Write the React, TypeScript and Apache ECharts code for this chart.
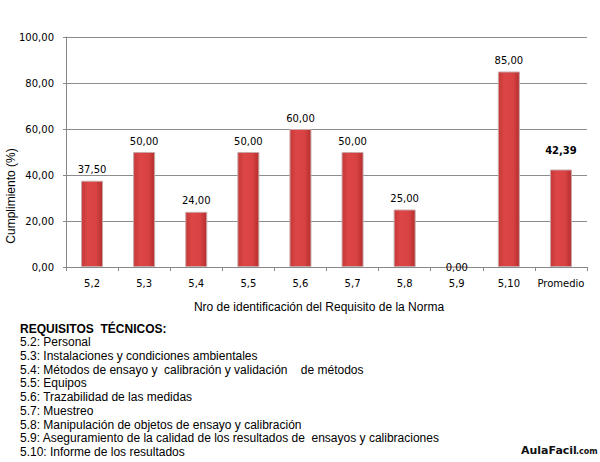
import React, { useEffect, useRef } from "react";
import * as echarts from "echarts";

const categories = ["5,2", "5,3", "5,4", "5,5", "5,6", "5,7", "5,8", "5,9", "5,10", "Promedio"];
const values = [37.5, 50, 24, 50, 60, 50, 25, 0, 85, 42.39];
const yTicks = { min: 0, max: 100, interval: 20 };
const yAxisName = "Cumplimiento (%)";
const xAxisName = "Nro de identificación del Requisito de la Norma";
const notesTitle = "REQUISITOS  TÉCNICOS:";
const notes = [
  "5.2: Personal",
  "5.3: Instalaciones y condiciones ambientales",
  "5.4: Métodos de ensayo y  calibración y validación    de métodos",
  "5.5: Equipos",
  "5.6: Trazabilidad de las medidas",
  "5.7: Muestreo",
  "5.8: Manipulación de objetos de ensayo y calibración",
  "5.9: Aseguramiento de la calidad de los resultados de  ensayos y calibraciones",
  "5.10: Informe de los resultados",
];
const brand = "AulaFacil";
const brandSuffix = ".com";

const fmt = (v: number) => v.toFixed(2).replace(".", ",");

export default function App() {
  const ref = useRef<HTMLDivElement>(null);
  useEffect(() => {
    document.body.style.margin = "0";
    const chart = echarts.init(ref.current!, null, { renderer: "svg" });
    const barColor = new echarts.graphic.LinearGradient(0, 0, 1, 0, [
      { offset: 0, color: "#c63838" },
      { offset: 0.3, color: "#dc4646" },
      { offset: 0.7, color: "#d84242" },
      { offset: 1, color: "#b42e2e" },
    ]);
    const labelFont = { fontFamily: "DejaVu Sans", fontSize: 10, color: "#000" };
    const data = values.map((v, i) => {
      const isAvg = i === values.length - 1;
      const item: any = { value: v };
      if (v === 0) item.label = { position: "inside", offset: [0, 0] };
      if (isAvg) item.label = { fontWeight: "bold", distance: 14 };
      return item;
    });
    chart.setOption({
      animation: false,
      backgroundColor: "#fff",
      grid: { left: 66, right: 13, top: 37, bottom: 195 },
      xAxis: {
        type: "category",
        data: categories,
        axisLine: { lineStyle: { color: "#888", width: 1 } },
        axisTick: { show: true, length: 4, interval: 0, alignWithLabel: false, lineStyle: { color: "#888" } },
        axisLabel: { ...labelFont, margin: 11, interval: 0 },
      },
      yAxis: {
        type: "value",
        min: yTicks.min,
        max: yTicks.max,
        interval: yTicks.interval,
        axisLine: { show: true, lineStyle: { color: "#888" } },
        axisTick: { show: true, length: 3, lineStyle: { color: "#888" } },
        axisLabel: { ...labelFont, margin: 12, formatter: (v: number) => fmt(v) },
        splitLine: { lineStyle: { color: "#8c8c8c", width: 1 } },
      },
      series: [
        {
          type: "bar",
          data,
          barWidth: 22,
          itemStyle: {
            color: barColor,
            borderColor: "#c8a8a8",
            borderWidth: 1,
          },
          label: {
            show: true,
            position: "top",
            distance: 6,
            ...labelFont,
            formatter: (p: any) => fmt(p.value),
          },
        },
      ],
      graphic: [
        {
          type: "text",
          x: 11,
          y: 196,
          rotation: Math.PI / 2,
          style: {
            text: yAxisName,
            fontFamily: "Liberation Sans",
            fontSize: 12,
            fill: "#000",
            align: "center",
            verticalAlign: "middle",
          },
        },
        {
          type: "text",
          x: 319,
          y: 307,
          style: {
            text: xAxisName,
            fontFamily: "Liberation Sans",
            fontSize: 12,
            fill: "#000",
            align: "center",
            verticalAlign: "middle",
          },
        },
        {
          type: "text",
          x: 20,
          y: 329,
          style: {
            text: notesTitle,
            fontFamily: "Liberation Sans",
            fontSize: 12,
            fontWeight: "bold",
            fill: "#000",
            align: "left",
            verticalAlign: "middle",
          },
        },
        ...notes.map((t, i) => ({
          type: "text",
          x: 20,
          y: 342 + i * 13.75,
          style: {
            text: t,
            fontFamily: "Liberation Sans",
            fontSize: 12,
            fill: "#000",
            align: "left",
            verticalAlign: "middle",
          },
        })),
        {
          type: "text",
          x: 521,
          y: 450,
          style: {
            text: brand,
            fontFamily: "DejaVu Sans",
            fontSize: 11,
            fontWeight: "bold",
            fill: "#111",
            align: "left",
            verticalAlign: "middle",
          },
        },
        {
          type: "text",
          x: 576,
          y: 451,
          style: {
            text: brandSuffix,
            fontFamily: "DejaVu Sans",
            fontSize: 8,
            fontWeight: "bold",
            fill: "#111",
            align: "left",
            verticalAlign: "middle",
          },
        },
      ],
    });
    return () => chart.dispose();
  }, []);
  return <div ref={ref} style={{ width: 600, height: 462 }} />;
}
